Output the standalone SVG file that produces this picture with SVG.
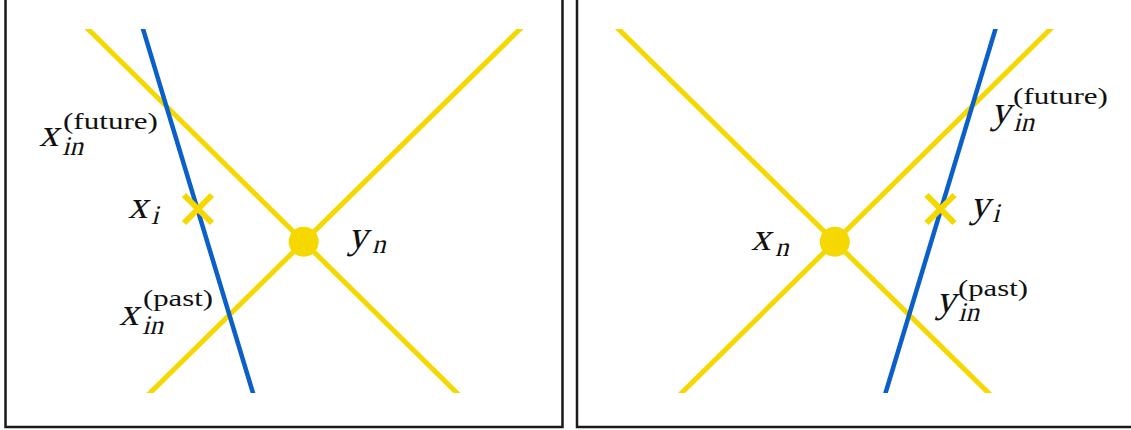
<svg xmlns="http://www.w3.org/2000/svg" width="1131" height="430" viewBox="0 0 1131 430">
<style>
.frame{fill:none;stroke:#1a1a1a;stroke-width:2.5}
.yl{stroke:#F5D800;stroke-width:5;fill:none}
.bl{stroke:#0A5FC8;stroke-width:4.5;fill:none}
.cross{stroke:#F5D800;stroke-width:6;fill:none}
.dot{fill:#F5D800}
.m{font-family:'Liberation Serif',serif;font-style:normal;fill:#111}
.big{font-size:39px}
.sub{font-size:27px}
.sup{font-family:'Liberation Serif',serif;font-style:normal;font-size:23px;fill:#111}
</style>
<defs>
<clipPath id="band"><rect x="0" y="29" width="1131" height="364"/></clipPath>
</defs>
<rect width="1131" height="430" fill="#fff"/>
<g id="frames">
<rect class="frame" x="5.5" y="-10" width="557" height="437"/>
<rect class="frame" x="577" y="-10" width="570" height="437"/>
</g>
<g id="connectors" clip-path="url(#band)">
<line class="yl" x1="77.9" y1="19" x2="467.1" y2="403"/>
<line class="yl" x1="530.2" y1="19" x2="139.8" y2="403"/>
<line class="bl" x1="140" y1="19" x2="256" y2="403"/>
<line class="yl" x1="1060.6" y1="19" x2="671.4" y2="403"/>
<line class="yl" x1="608.3" y1="19" x2="998.7" y2="403"/>
<line class="bl" x1="998.5" y1="19" x2="882.5" y2="403"/>
</g>
<g id="node-yn">
<circle class="dot" cx="303.7" cy="241.8" r="15"/>
<text class="m big" transform="translate(348 248) skewX(-14)">y</text>
<text class="m sub" transform="translate(372 253) skewX(-14)">n</text>
</g>
<g id="node-xi">
<path class="cross" d="M184 195 L212 223 M212 195 L184 223"/>
<text class="m big" transform="translate(128 218) skewX(-14)">x</text>
<text class="m sub" transform="translate(151 224) skewX(-14)">i</text>
</g>
<g id="label-x-future">
<text class="m big" transform="translate(39 146) skewX(-14)">x</text>
<text class="m sub" transform="translate(62 155) skewX(-14)">in</text>
<text class="sup" x="63" y="129" textLength="95" lengthAdjust="spacingAndGlyphs">(future)</text>
</g>
<g id="label-x-past">
<text class="m big" transform="translate(119 325) skewX(-14)">x</text>
<text class="m sub" transform="translate(142 334) skewX(-14)">in</text>
<text class="sup" x="143" y="306" textLength="70" lengthAdjust="spacingAndGlyphs">(past)</text>
</g>
<g id="node-xn">
<circle class="dot" cx="834.8" cy="241.8" r="15"/>
<text class="m big" transform="translate(751 250) skewX(-14)">x</text>
<text class="m sub" transform="translate(775 256) skewX(-14)">n</text>
</g>
<g id="node-yi">
<path class="cross" d="M926.5 195 L954.5 223 M954.5 195 L926.5 223"/>
<text class="m big" transform="translate(970 217) skewX(-14)">y</text>
<text class="m sub" transform="translate(992 222) skewX(-14)">i</text>
</g>
<g id="label-y-future">
<text class="m big" transform="translate(991 123) skewX(-14)">y</text>
<text class="m sub" transform="translate(1013 131) skewX(-14)">in</text>
<text class="sup" x="1013" y="104" textLength="95" lengthAdjust="spacingAndGlyphs">(future)</text>
</g>
<g id="label-y-past">
<text class="m big" transform="translate(936 312) skewX(-14)">y</text>
<text class="m sub" transform="translate(958 321) skewX(-14)">in</text>
<text class="sup" x="958" y="296" textLength="70" lengthAdjust="spacingAndGlyphs">(past)</text>
</g>
</svg>
